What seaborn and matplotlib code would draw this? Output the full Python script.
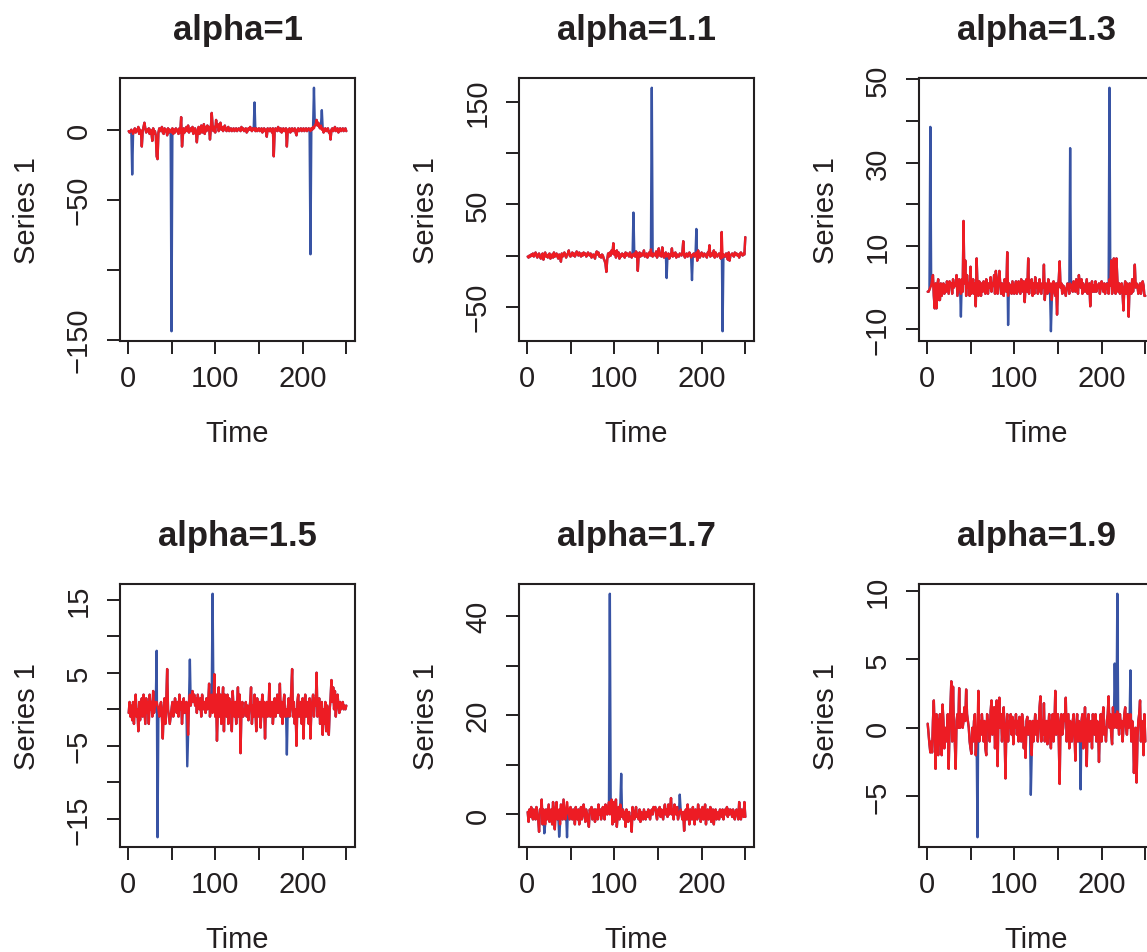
import numpy as np
import pandas as pd
import matplotlib
matplotlib.use("Agg")
import matplotlib.pyplot as plt
import seaborn as sns

sns.set_theme(style="white")
plt.rcParams["font.family"] = ["Liberation Sans", "DejaVu Sans"]
plt.rcParams["axes.unicode_minus"] = True

# ---------------- data ----------------
titles = ["alpha=1", "alpha=1.1", "alpha=1.3", "alpha=1.5", "alpha=1.7", "alpha=1.9"]

red_a1 = [
    -1,-2,-1,0,-1,-3,-1,1,-2,0,-1,2,-3,0,-1,-12,-1,2,5,1,-2,0,-1,1,-3,
    0,-2,-8,1,-3,-1,-4,-19,-21,-2,1,-1,0,2,-2,-3,1,-1,0,-4,1,-2,0,-1,-2,
    1,-3,0,-2,1,-1,0,-3,1,-2,9,-12,-4,1,-2,0,2,-1,3,-2,0,1,-1,2,-3,
    0,1,-2,-9,-1,2,-3,0,3,-2,1,4,-3,2,-1,3,0,2,-7,1,12,3,-1,2,-2,
    7,2,4,-1,2,5,0,2,-1,1,3,0,-1,1,2,-1,0,1,-1,0,1,-1,0,1,-1,
    0,1,0,-1,2,0,1,-1,0,1,-2,-1,1,0,2,0,-1,1,0,1,-1,1,-1,0,1,
    -1,0,1,-2,0,1,-1,0,-5,1,0,-1,1,0,-2,1,-19,-1,1,0,-1,2,0,-1,1,
    -2,0,1,-1,0,1,-12,0,-1,1,-2,0,1,-1,0,1,-2,-4,0,1,-1,0,1,-1,0,
    1,-1,0,1,-1,0,1,0,-1,1,0,2,1,3,4,7,3,5,2,1,3,0,1,-2,0,
    1,-1,0,1,-2,-1,-7,0,1,-1,0,2,-1,0,1,-2,0,1,-1,0,1,-1,0,1,-1,
]
red_a11 = [
    -1,-2,0,-1,1,0,2,-1,1,3,0,-2,1,2,-1,-3,0,2,-4,1,3,-1,0,-2,1,
    2,-3,0,1,-2,3,-1,0,2,-1,-3,1,0,-6,2,-1,1,3,0,-2,1,2,5,0,-1,
    1,3,0,2,-1,1,4,2,0,3,1,-1,2,0,3,1,2,-1,0,3,1,0,2,-2,-1,
    1,0,-3,2,4,1,3,-1,0,-2,1,0,-3,-5,-8,-16,-4,2,-1,3,0,5,2,12,1,
    4,-2,5,0,3,-3,1,-1,2,0,1,-2,3,0,2,1,-1,3,0,-2,1,0,2,-1,4,
    2,-15,1,3,-1,2,0,1,5,-1,0,2,-2,1,3,0,6,0,-1,2,1,0,4,-2,1,
    7,0,2,-1,8,1,-2,0,3,-1,0,2,-3,1,0,7,-1,2,0,3,-2,1,0,-1,2,
    1,0,3,14,0,-2,1,2,-1,0,3,1,-2,0,1,2,-1,0,3,-5,5,0,-2,1,3,
    0,-1,2,1,0,-2,3,1,10,-1,2,0,1,5,-2,3,0,-1,1,2,0,-3,23,-2,1,
    0,-1,2,1,-4,3,-5,0,1,2,0,-1,3,1,2,0,1,-2,2,3,1,0,2,1,18,
]
red_a13 = [
    -1,-1,-0.5,0,0.5,2,3,-2,-5,1,-5,0.5,2,-3,-3,1,-2,0,1,-1.5,0.5,-1,1.5,0,-1.5,
    1.5,0.5,1,-1.5,2,0,1,0.5,3,-2,0,2,0.5,-1.5,2,-1,16,1,6.5,-2,3,0,1,-2,5,
    -1.5,0,2,-1.5,1,-4.5,7,0,-2,1.5,0.5,-2,1,-1,1.5,0.5,-1.5,2,0,-1.5,1,0,2.5,-1,1,
    0.5,3,-1.5,4,0,-1.5,2,4,1,-1.5,1,0.5,-2,2,1,-1,8.5,-2,1,0,0.5,-1.5,1.5,0,-1.5,
    0.5,1.5,-1.5,0,1.5,-1,-1.5,2,0,-1,1.5,-3.5,0.5,2,-1,7,-1.5,1.5,0,2,-2,1,-1.5,2.5,0,
    1,-1.5,0.5,2,-1,-1.5,1,0,5.5,-3,1,0,-1.5,2,0,-1,1,-3,0.5,1.5,-1,-2,1,-6.5,0,
    2,6.3,0,1,-1.5,0.5,0,-1,-2,0,1,0.5,-1.5,1,0,0.5,-1,1.5,0,-1,2,0.5,-1.5,3,1,
    0,2,-1.5,1,0,-1,0.5,2,-1.5,0,1,-4.5,0,1.5,-1,0.5,-1,1.5,-1,0,0.5,1,-1.5,0,1.5,
    0.5,-1,1,-1.5,0.5,1,0,-1.5,2,0.5,6.5,-1.5,0,7,1,-1.5,7,2,-1,1,-1.5,0,1,-1.5,-5.5,
    0,1.5,-1.5,1,0,-7,1,0.5,-1.5,2,-1,1,5.5,0,1,0.5,-1.5,0,1,-1.5,0,1.5,0.5,-2,-2,
]
red_a15 = [
    -0.5,1,-1,0.5,-1.5,1,-2,0.5,2,-1,0,-3,1,-1.5,0.5,1.5,-1,2,0,-2,1.5,-0.5,1,-2,2,
    0,1,-1,2.5,-0.5,0.5,1,1,0.5,0,-1,0.5,1,-1,-4,0,1.5,-2,1,5.5,0,-1,-2,-1,0,
    1,-1,0,1.5,0.5,-0.5,1,-1,2,0,1,-2,0.5,1.5,-0.5,0,1,-1,-3.5,1,2,0.5,1.5,2.5,1,
    2,0.5,1.5,-0.5,2,1,0,1.5,-1,2,0.5,0,1,-0.5,1.5,0,1,3.5,-1,0.5,2,-0.5,1,4.8,-1,
    2,-4.3,0,3,-1,2,-2,1,3,-3,2,0,-1,2,-2,1.5,-0.5,1,-3,2.5,0,-1,1,-2,0.5,
    3,-1,2,-6,0,1,-1,0,-0.5,1,-1,0.5,-1.5,0,1,3,-2,0.5,-1,2,0,-3,1.5,0,-1,
    1,-2.5,0.5,2,-1,1,-4,0.5,1,-1,0,3.5,-1,0.5,1,-2,0,1.5,-1,0,2,-0.5,0,3.5,-1,
    1,-2,0.5,2,-1,0,-1,0,1.5,-1,0,2.5,5.5,-1,1,-2,0,-5,1,2,-1,0,1,-2,1.5,
    -4,0,2,-1,1,0,-2,1.5,-4,0,1,2,-1,1.5,0.5,5,-1,0,1.5,-2,0,1,-3.5,0,-2,
    1,-3,0.5,-2,-3.5,0,1.5,4,1,3,0,2.5,-1,1,2,0.5,-0.5,1,0,0.5,1,0,0.5,0,0.5,
]
red_a17 = [
    0.5,-1.5,1,-0.5,1.5,0,-1,1,0.5,-1,1.5,0,-1,-3.5,1,0.5,3,-2,1,0,-2,1,-1,0.5,2,
    -1.5,0,1,-2,2.5,0,-3,1,2.5,-1,0,1,-2,2,0.5,-1,3,1,-1,0,2.5,1,0,-1,1.5,
    0,-1,1,0.5,-2,1.5,0,-1,1,-2,0.5,1.5,-1,0,2,0.5,-1.5,1,0,-1,-2.5,1,0.5,1.5,-1,
    0,1,-1.5,1,0.5,-1,2,0,1,-1,0.5,1.5,0,-1,2,1,0,1.5,2.5,0,1,3,-2,2.5,-1.5,
    1,3,-2.5,0,1.5,-1,2,0,-0.5,1,-1,0.5,-2.5,1,0,-1.5,0.5,-1,-0.5,-3.5,1.5,0,-1,0.5,1.5,
    -0.5,0,-1,1,-1.5,0.5,0,-1,1,0,-1,0.5,-0.5,1,0,-1,0.5,1,0,1.5,1,1.5,0,-1,1,
    0,1.5,-0.5,1,0,-1,1,2,0,1,-0.5,2,0,1,3.3,0,1,-1,2,0.5,0,1.5,-1,0,0.5,
    1,0,-1,0.5,-3.3,0,1,-1,2,0,-2,1,0.5,-1,1.5,0,-2,1,0,-1,2,-0.5,1,-1.5,0,
    1.5,-1,0,2,-2,0.5,1,-1,0,1.5,-1.5,0,1,-2,0.5,1,-1,0,0.5,-1,1,0,-0.5,1,-1,
    0.5,1,0,1.5,-0.5,1,0,1,0.5,-0.5,1,0,-1,0.5,1,0,-1,2.5,0,-1,1,0.5,-0.5,2.5,-0.5,
]
red_a19 = [
    0.3,-0.5,-1.2,-1.8,-1,-1.8,0.5,2,-0.5,-3,1,0.5,-2,0,1,-1,-2,1.7,0.5,-1.5,0,-1,-0.5,1,-3,
    0,1.5,3.4,-1,3,0,-1,-3,0.5,1,0,2.9,0,0.5,1,0,0.5,1.5,0.5,2.8,1,0.5,0,-1,-1.5,
    -1.9,0,-1,0.5,1,-2,-1,0,2.7,-1,0.5,-0.5,1,0,-1,0.5,-1.5,-2,1,0,0.5,-1,1.2,2,-0.5,
    0.5,1.5,-1.5,0,2,-2.8,1,2.2,0,1,-1,0.5,1.5,-0.5,-3.7,0,1,-1,0.5,0,1,-0.5,0.8,-1.2,0.5,
    0,1,-0.5,0.5,-1,0.8,0,-1,1,0.5,-1.5,0,-2.2,0.5,0.8,-0.5,0,0.5,-1,-2,0.5,-1,0,1,-0.5,
    0.5,-1,0,1.5,2.3,-1,0.5,-0.5,1.8,-1,0,0.5,-1.2,0,1,-0.5,-1.5,0.5,1,-1,0,2.7,-0.5,0,1,
    -1,-4.1,0.5,1,-0.5,0,1,0.5,2.2,-1,0,1,-1.5,0.5,0,-1,0.5,1,-0.5,-2.4,0,1,-1,0.5,0,
    -1,0.5,1,-1.5,0,1.5,-0.5,-2.8,0.5,1,-1,0,0.5,-1.5,1,0,-0.5,1,-1,0.5,0,-2.5,0,1,-1,
    0.5,1.5,-0.5,0,-1,0.5,1,2.3,0,1,-0.5,-1.2,1.5,0,0.5,1,0,1.2,0.5,-0.5,1,0,0.5,-1,0,
    1,1.5,0,-0.5,1,0,0.5,1,-1,0.5,0,-3.3,-1,0,-4,-1,0.5,1,2,-1,0.5,0,-2,1,-1,
]

# blue series departs from the red one only at these times
spike_t_a1 = [5, 50, 145, 209, 213, 222]
spike_v_a1 = [-32, -144, 19.5, -89, 30, 14]
spike_t_a11 = [122, 143, 160, 189, 194, 224]
spike_v_a11 = [42, 164, -22, -24, 26, -74]
spike_t_a13 = [4, 39, 93, 142, 164, 209]
spike_v_a13 = [38.6, -7, -9, -10.5, 33.5, 48]
spike_t_a15 = [33, 34, 68, 71, 97, 182]
spike_v_a15 = [8, -17.5, -7.8, 6.8, 15.8, -6.2]
spike_t_a17 = [20, 37, 46, 95, 108, 175]
spike_v_a17 = [-3.8, -4.5, -4.6, 44.5, 8.2, 4]
spike_t_a19 = [58, 119, 176, 215, 218, 233]
spike_v_a19 = [-8, -4.9, -4.5, 4.7, 9.8, 4.2]

yticks_a1 = [-150, -100, -50, 0]
ylabels_a1 = ["\u2212150", "", "\u221250", "0"]
yticks_a11 = [-50, 0, 50, 100, 150]
ylabels_a11 = ["\u221250", "", "50", "", "150"]
yticks_a13 = [-10, 0, 10, 20, 30, 40, 50]
ylabels_a13 = ["\u221210", "", "10", "", "30", "", "50"]
yticks_a15 = [-15, -10, -5, 0, 5, 10, 15]
ylabels_a15 = ["\u221215", "", "\u22125", "", "5", "", "15"]
yticks_a17 = [0, 10, 20, 30, 40]
ylabels_a17 = ["0", "", "20", "", "40"]
yticks_a19 = [-5, 0, 5, 10]
ylabels_a19 = ["\u22125", "0", "5", "10"]

xticks = [0, 50, 100, 150, 200, 250]
xlabels = ["0", "", "100", "", "200", ""]

panels = [
    (titles[0], red_a1, spike_t_a1, spike_v_a1, yticks_a1, ylabels_a1),
    (titles[1], red_a11, spike_t_a11, spike_v_a11, yticks_a11, ylabels_a11),
    (titles[2], red_a13, spike_t_a13, spike_v_a13, yticks_a13, ylabels_a13),
    (titles[3], red_a15, spike_t_a15, spike_v_a15, yticks_a15, ylabels_a15),
    (titles[4], red_a17, spike_t_a17, spike_v_a17, yticks_a17, ylabels_a17),
    (titles[5], red_a19, spike_t_a19, spike_v_a19, yticks_a19, ylabels_a19),
]

# ---------------- drawing ----------------
RED = "#ED1C24"
BLUE = "#3853A4"
INK = "#231F20"

W, H = 1147, 953
fig = plt.figure(figsize=(W / 100, H / 100), dpi=100)
lefts = [120, 519, 919]
tops = [79, 585]
aw, ah = 235, 263

for k, (title, red, st, sv, yt, yl) in enumerate(panels):
    r, c = divmod(k, 3)
    ax = fig.add_axes([lefts[c] / W, (H - tops[r] - ah) / H, aw / W, ah / H])
    red = np.asarray(red, dtype=float)
    t = np.arange(1, len(red) + 1)
    blue = red.copy()
    for ti, v in zip(st, sv):
        blue[ti - 1] = v
    df = pd.DataFrame({
        "Time": np.concatenate([t, t]),
        "value": np.concatenate([blue, red]),
        "series": ["blue"] * len(t) + ["red"] * len(t),
    })
    sns.lineplot(data=df, x="Time", y="value", hue="series",
                 hue_order=["blue", "red"], palette={"blue": BLUE, "red": RED},
                 linewidth=1.7, estimator=None, sort=False, legend=False, ax=ax)

    ax.set_xticks(xticks)
    ax.set_xticklabels(xlabels)
    ax.set_yticks(yt)
    ax.set_yticklabels(yl, rotation=90, va="center")

    lo, hi = min(blue.min(), red.min()), max(blue.max(), red.max())
    pad = 0.04 * (hi - lo)
    ax.set_ylim(lo - pad, hi + pad)
    tp = 0.04 * (t[-1] - t[0])
    ax.set_xlim(t[0] - tp, t[-1] + tp)

    for s in ax.spines.values():
        s.set_visible(True)
        s.set_linewidth(1.5)
        s.set_color(INK)
    ax.tick_params(axis="both", which="major", direction="out", length=9.5,
                   width=1.4, color=INK, labelcolor=INK, labelsize=21,
                   bottom=True, left=True, top=False, right=False)
    ax.tick_params(axis="x", pad=7)
    ax.tick_params(axis="y", pad=10)
    ax.grid(False)

    ax.set_xlabel("Time", fontsize=21, color=INK)
    ax.set_ylabel("Series 1", fontsize=21, color=INK)
    ax.xaxis.set_label_coords(0.5, -0.298)
    ax.yaxis.set_label_coords(-0.336, 0.5)
    ax.set_title(title, fontsize=25, fontweight="bold", color=INK, pad=28)

fig.savefig("out.png", dpi=100)
